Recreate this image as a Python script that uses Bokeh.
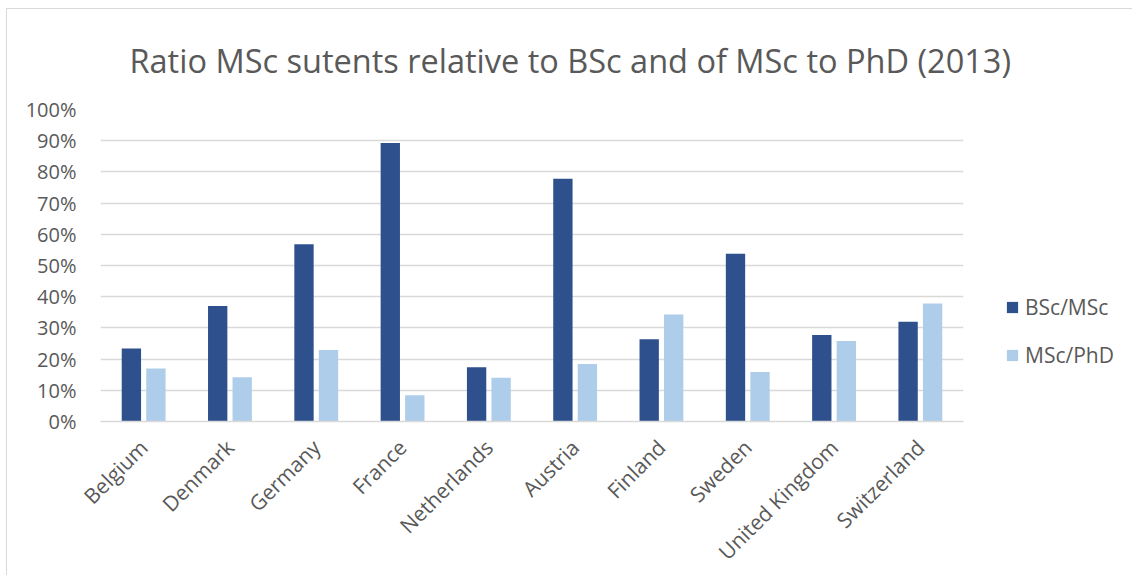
import math
from bokeh.plotting import figure
from bokeh.models import ColumnDataSource, FactorRange, Range1d, NumeralTickFormatter, FixedTicker, Legend, LegendItem, Title
from bokeh.transform import dodge
from bokeh.embed import file_html
from bokeh.resources import INLINE

countries = ["Belgium", "Denmark", "Germany", "France", "Netherlands",
             "Austria", "Finland", "Sweden", "United Kingdom", "Switzerland"]
bsc_msc = [0.234, 0.370, 0.568, 0.893, 0.174, 0.778, 0.264, 0.538, 0.277, 0.320]
msc_phd = [0.170, 0.142, 0.229, 0.084, 0.140, 0.184, 0.343, 0.159, 0.258, 0.378]
y_ticks = [0.0, 0.1, 0.2, 0.3, 0.4, 0.5, 0.6, 0.7, 0.8, 0.9, 1.0]
title_text = "Ratio MSc sutents relative to BSc and of MSc to PhD (2013)"

TEXT = "#595959"
GRID = "#D9D9D9"
DARK = "#2E508C"
LIGHT = "#AECDEA"
FONT = "Open Sans"

source = ColumnDataSource(data=dict(country=countries, bsc=bsc_msc, phd=msc_phd))

p = figure(x_range=FactorRange(*countries), y_range=Range1d(0, 1),
           frame_width=863, frame_height=312,
           min_border_left=93, min_border_right=169,
           min_border_top=100, min_border_bottom=154,
           output_backend="svg", toolbar_location=None, title=None)
p.styles = {"margin-left": "6px", "margin-top": "8px",
            "border-left": "1px solid #D9D9D9", "border-top": "1px solid #D9D9D9"}

t = Title(text=title_text, align="left", offset=29,
          text_font=FONT, text_font_size="32.5px", text_font_style="normal",
          text_color=TEXT, standoff=53)
p.add_layout(t, "above")

r1 = p.vbar(x=dodge("country", -0.142, range=p.x_range), top="bsc", width=0.224,
            source=source, fill_color=DARK, line_color=None)
r2 = p.vbar(x=dodge("country", 0.142, range=p.x_range), top="phd", width=0.224,
            source=source, fill_color=LIGHT, line_color=None)

p.outline_line_color = None
p.background_fill_color = "white"
p.border_fill_color = "white"

p.xgrid.grid_line_color = None
p.ygrid.grid_line_color = GRID
p.ygrid.grid_line_width = 1.5
p.ygrid.ticker = FixedTicker(ticks=y_ticks)

p.yaxis.ticker = FixedTicker(ticks=y_ticks)
p.yaxis.formatter = NumeralTickFormatter(format="0%")
p.yaxis.axis_line_color = None
p.yaxis.major_tick_line_color = None
p.yaxis.minor_tick_line_color = None
p.yaxis.major_label_text_font = FONT
p.yaxis.major_label_text_font_size = "20px"
p.yaxis.major_label_text_color = TEXT
p.yaxis.major_label_standoff = 18

p.xaxis.axis_line_color = GRID
p.xaxis.axis_line_width = 1.5
p.xaxis.major_tick_line_color = None
p.xaxis.minor_tick_line_color = None
p.xaxis.major_label_orientation = math.pi / 4
p.xaxis.major_label_text_font = FONT
p.xaxis.major_label_text_font_size = "21px"
p.xaxis.major_label_text_color = TEXT
p.xaxis.major_label_standoff = 16

legend = Legend(items=[LegendItem(label="BSc/MSc", renderers=[r1]),
                       LegendItem(label="MSc/PhD", renderers=[r2])],
                location=(42, 52), orientation="vertical",
                padding=0, margin=0, spacing=20,
                glyph_width=14, glyph_height=14, label_height=25,
                label_standoff=6,
                label_text_font=FONT, label_text_font_size="21px",
                label_text_color=TEXT,
                border_line_color=None, background_fill_alpha=0)
p.add_layout(legend, "right")

open("out.html", "w").write(file_html(p, INLINE))
